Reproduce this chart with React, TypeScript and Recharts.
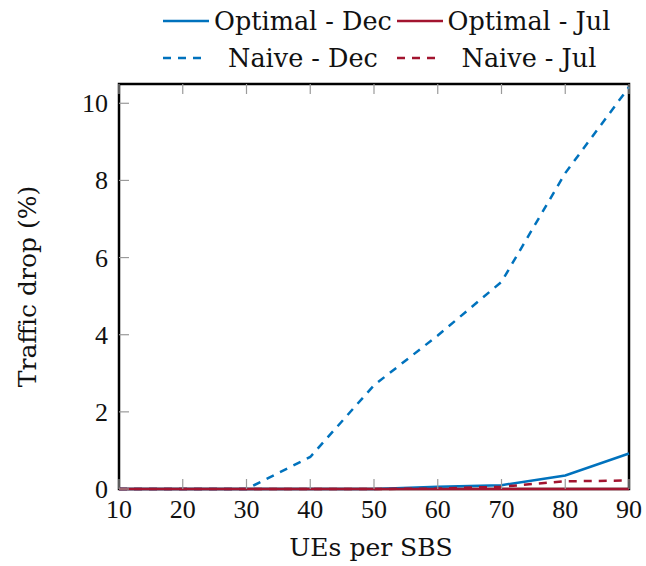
import { LineChart, Line, XAxis, YAxis, ReferenceArea } from "recharts"

const ues = [10, 20, 30, 40, 50, 60, 70, 80, 90]
const optimalDec = [0, 0, 0, 0, 0, 0.06, 0.1, 0.35, 0.92]
const optimalJul = [0, 0, 0, 0, 0, 0, 0, 0, 0]
const naiveDec = [0, 0, 0, 0.83, 2.69, 3.98, 5.37, 8.19, 10.42]
const naiveJul = [0, 0, 0, 0, 0, 0.01, 0.06, 0.2, 0.22]

const xTicks = [10, 20, 30, 40, 50, 60, 70, 80, 90]
const yTicks = [0, 2, 4, 6, 8, 10]
const xDomain = [10, 90]
const yDomain = [0, 10.5]

const BLUE = "#0072BD"
const RED = "#A2142F"
const TICK_GREY = "#9a9a9a"
const DASH = "8 7"
const SERIF = "'DejaVu Serif', serif"
const NUM_FONT = "'Liberation Serif', serif"

const data = ues.map((u, i) => ({
  ues: u,
  optimalDec: optimalDec[i],
  optimalJul: optimalJul[i],
  naiveDec: naiveDec[i],
  naiveJul: naiveJul[i],
}))

const legendRows = [
  [
    { name: "Optimal - Dec", color: BLUE, dashed: false },
    { name: "Optimal - Jul", color: RED, dashed: false },
  ],
  [
    { name: "Naive - Dec", color: BLUE, dashed: true },
    { name: "Naive - Jul", color: RED, dashed: true },
  ],
]

const numStyle = { fontFamily: NUM_FONT, fontSize: 26 }
const labelStyle = { fontFamily: SERIF, fontSize: 25 }

function BottomTick({ x, y, payload }: any) {
  return (
    <g>
      <line x1={x} y1={y} x2={x} y2={y - 10} stroke={TICK_GREY} strokeWidth={1.2} />
      <text x={x} y={y + 29} textAnchor="middle" style={numStyle} fill="#111">
        {payload.value}
      </text>
    </g>
  )
}

function TopTick({ x, y }: any) {
  return <line x1={x} y1={y} x2={x} y2={y + 10} stroke={TICK_GREY} strokeWidth={1.2} />
}

function LeftTick({ x, y, payload }: any) {
  return (
    <g>
      <line x1={x} y1={y} x2={x + 10} y2={y} stroke={TICK_GREY} strokeWidth={1.2} />
      <text x={x - 11} y={y + 9} textAnchor="end" style={numStyle} fill="#111">
        {payload.value}
      </text>
    </g>
  )
}

function RightTick({ x, y }: any) {
  return <line x1={x} y1={y} x2={x - 10} y2={y} stroke={TICK_GREY} strokeWidth={1.2} />
}

function YLabel({ viewBox }: any) {
  const cy = viewBox.y + viewBox.height / 2
  return (
    <text x={36} y={cy} transform={`rotate(-90, 36, ${cy})`} textAnchor="middle" style={labelStyle} fill="#111">
      Traffic drop (%)
    </text>
  )
}

function XLabel({ viewBox }: any) {
  const cx = viewBox.x + viewBox.width / 2
  return (
    <text x={cx - 3} y={viewBox.y + 67} textAnchor="middle" style={labelStyle} fill="#111">
      UEs per SBS
    </text>
  )
}

function ChartLegend() {
  return (
    <div
      style={{
        position: "absolute",
        left: 163,
        top: 2,
        display: "grid",
        gridTemplateColumns: "46px 188px 46px 172px",
        gridAutoRows: "37px",
        alignItems: "center",
        fontFamily: SERIF,
        fontSize: 25.5,
        color: "#111",
        pointerEvents: "none",
      }}
    >
      {legendRows.flat().map((item) => [
        <svg key={item.name + "-s"} width={46} height={10}>
          <line
            x1={0}
            y1={5}
            x2={item.dashed ? 40 : 46}
            y2={5}
            stroke={item.color}
            strokeWidth={2.5}
            strokeDasharray={item.dashed ? DASH : undefined}
          />
        </svg>,
        <div key={item.name} style={{ textAlign: "center", whiteSpace: "nowrap" }}>
          {item.name}
        </div>,
      ])}
    </div>
  )
}

export default function App() {
  return (
    <div style={{ position: "relative", width: 646, height: 566, background: "#fff" }}>
      <style>{"body{margin:0}"}</style>
      <ChartLegend />
      <LineChart width={646} height={566} data={data} margin={{ top: 83, right: 16, left: 0, bottom: 0 }}>
        <XAxis
          dataKey="ues"
          type="number"
          domain={xDomain}
          ticks={xTicks}
          height={77}
          tickSize={0}
          tickMargin={0}
          tickLine={false}
          tick={<BottomTick />}
          axisLine={false}
          label={{ content: <XLabel /> }}
        />
        <XAxis
          xAxisId="top"
          orientation="top"
          dataKey="ues"
          type="number"
          domain={xDomain}
          ticks={xTicks}
          height={1}
          tickSize={0}
          tickMargin={0}
          tickLine={false}
          tick={<TopTick />}
          axisLine={false}
        />
        <YAxis
          type="number"
          domain={yDomain}
          ticks={yTicks}
          width={119}
          tickSize={0}
          tickMargin={0}
          tickLine={false}
          tick={<LeftTick />}
          axisLine={false}
          label={{ content: <YLabel /> }}
        />
        <YAxis
          yAxisId="right"
          orientation="right"
          type="number"
          domain={yDomain}
          ticks={yTicks}
          width={1}
          tickSize={0}
          tickMargin={0}
          tickLine={false}
          tick={<RightTick />}
          axisLine={false}
        />
        <ReferenceArea
          x1={xDomain[0]}
          x2={xDomain[1]}
          y1={yDomain[0]}
          y2={yDomain[1]}
          fill="none"
          fillOpacity={0}
          stroke="#000"
          strokeWidth={2.5}
          strokeOpacity={1}
        />
        <Line dataKey="optimalDec" name="Optimal - Dec" stroke={BLUE} strokeWidth={2.5} dot={false} isAnimationActive={false} />
        <Line dataKey="naiveDec" name="Naive - Dec" stroke={BLUE} strokeWidth={2.5} strokeDasharray={DASH} dot={false} isAnimationActive={false} />
        <Line dataKey="optimalJul" name="Optimal - Jul" stroke={RED} strokeWidth={2.5} dot={false} isAnimationActive={false} />
        <Line dataKey="naiveJul" name="Naive - Jul" stroke={RED} strokeWidth={2.5} strokeDasharray={DASH} dot={false} isAnimationActive={false} />
      </LineChart>
    </div>
  )
}
